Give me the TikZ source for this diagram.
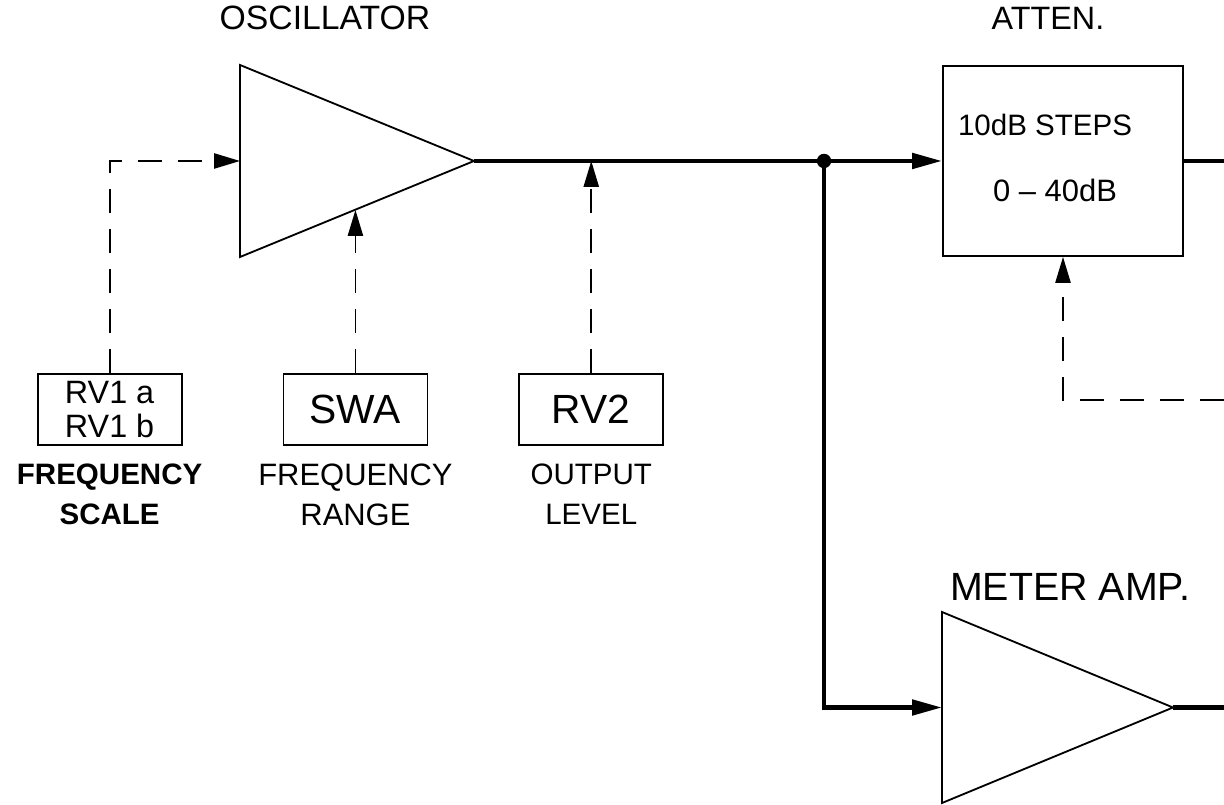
\documentclass[tikz,border=0pt]{standalone}
\usepackage{fontspec}
\setmainfont{Liberation Sans}
\usetikzlibrary{arrows.meta, positioning, shapes.geometric, calc}
\tikzset{
	box/.style={
		draw,
		line width=1.3pt,
		minimum width=3.6cm,
		minimum height=1.78cm,
		inner sep=0pt,
		align=center,
		font=\fontsize{23}{24}\selectfont
	},
	amp/.style={
		draw,
		line width=1.3pt,
		isosceles triangle,
		isosceles triangle stretches,
		shape border rotate=0,
		inner sep=0pt,
		outer sep=0pt
	},
	lbl/.style={
		align=center,
		inner sep=0pt,
		font=\fontsize{22}{28}\selectfont
	},
	sig/.style={line width=3.2pt},
	ctrl/.style={line width=1.3pt, dash pattern=on 0.6cm off 0.4cm},
	sigtip/.style={-{Triangle[length=0.75cm, width=0.38cm]}},
	ctrltip/.style={-{Triangle[length=0.65cm, width=0.38cm]}}
}

\begin{document}
\begin{tikzpicture}
		\useasboundingbox (0,0) rectangle (30.6,20.125);
		
		% Oscillator
		\node[amp, anchor=west, minimum height=5.85cm, minimum width=4.8cm] (osc) at (6,16.1) {};
		\node[lbl, font=\fontsize{24}{28}\selectfont] (oscLbl) at (8.125,19.675) {OSCILLATOR};
		
		% Attenuator
		\node[box, minimum width=6cm, minimum height=4.75cm] (atten) at (26.575,16.1) {};
		\node[lbl, font=\fontsize{23}{28}\selectfont] (attenLbl) at (26.2,19.675) {ATTEN.};
		\node[font=\fontsize{21}{24}\selectfont] (steps) at (26.125,17.0) {10dB STEPS};
		\node[font=\fontsize{22}{24}\selectfont] (range) at (26.375,15.375) {0 -- 40dB};
		
		% Meter amp
		\node[amp, anchor=west, minimum height=5.775cm, minimum width=4.775cm] (meter) at (23.55,2.4375) {};
		\node[lbl, font=\fontsize{28}{30}\selectfont] (meterLbl) at (26.75,5.45) {METER AMP.};
		
		% Abzweig
		\node[circle, fill, inner sep=0pt, minimum size=0.36cm] (jn) at (20.6,16.1) {};
		
		% Signalweg
		\coordinate (attOut) at (30.6,16.1);
		\coordinate (meterOut) at (30.6,2.4375);
		\draw[sig] (osc.apex) -- (jn.center);
		\draw[sig, sigtip] (jn.center) -- (atten.west);
		\draw[sig, sigtip] (jn.center) |- (meter.west);
		\draw[sig] (atten.east) -- (attOut);
		\draw[sig] (meter.apex) -- (meterOut);
		
		% Bedienelemente
		\node[box] (RV1) at (2.74,9.89) {RV1 a\\RV1 b};
		\node[box, font=\fontsize{29}{30}\selectfont, right=2.5cm of RV1] (SWA) {SWA};
		\node[box, font=\fontsize{29}{30}\selectfont, right=2.25cm of SWA] (RV2) {RV2};
		
		\node[lbl, font=\bfseries\fontsize{21}{28}\selectfont, below=0.45cm of RV1] {FREQUENCY\\SCALE};
		\node[lbl, below=0.45cm of SWA] {FREQUENCY\\RANGE};
		\node[lbl, font=\fontsize{21}{28}\selectfont, below=0.45cm of RV2] {OUTPUT\\LEVEL};
		
		% Steuerlinien
		\coordinate (swaIn) at ($(osc.right corner)!0.49!(osc.apex)$);
		\coordinate (attCtl) at (30.6,10.125);
		\draw[ctrl, ctrltip] (RV1.north) |- (osc.west);
		\draw[ctrl, ctrltip] (SWA.north) -- (SWA.north |- swaIn);
		\draw[ctrl, ctrltip] (RV2.north) -- (RV2.north |- jn);
		\draw[ctrl, ctrltip] (attCtl) -| (atten.south);
		
	\end{tikzpicture}
\end{document}
